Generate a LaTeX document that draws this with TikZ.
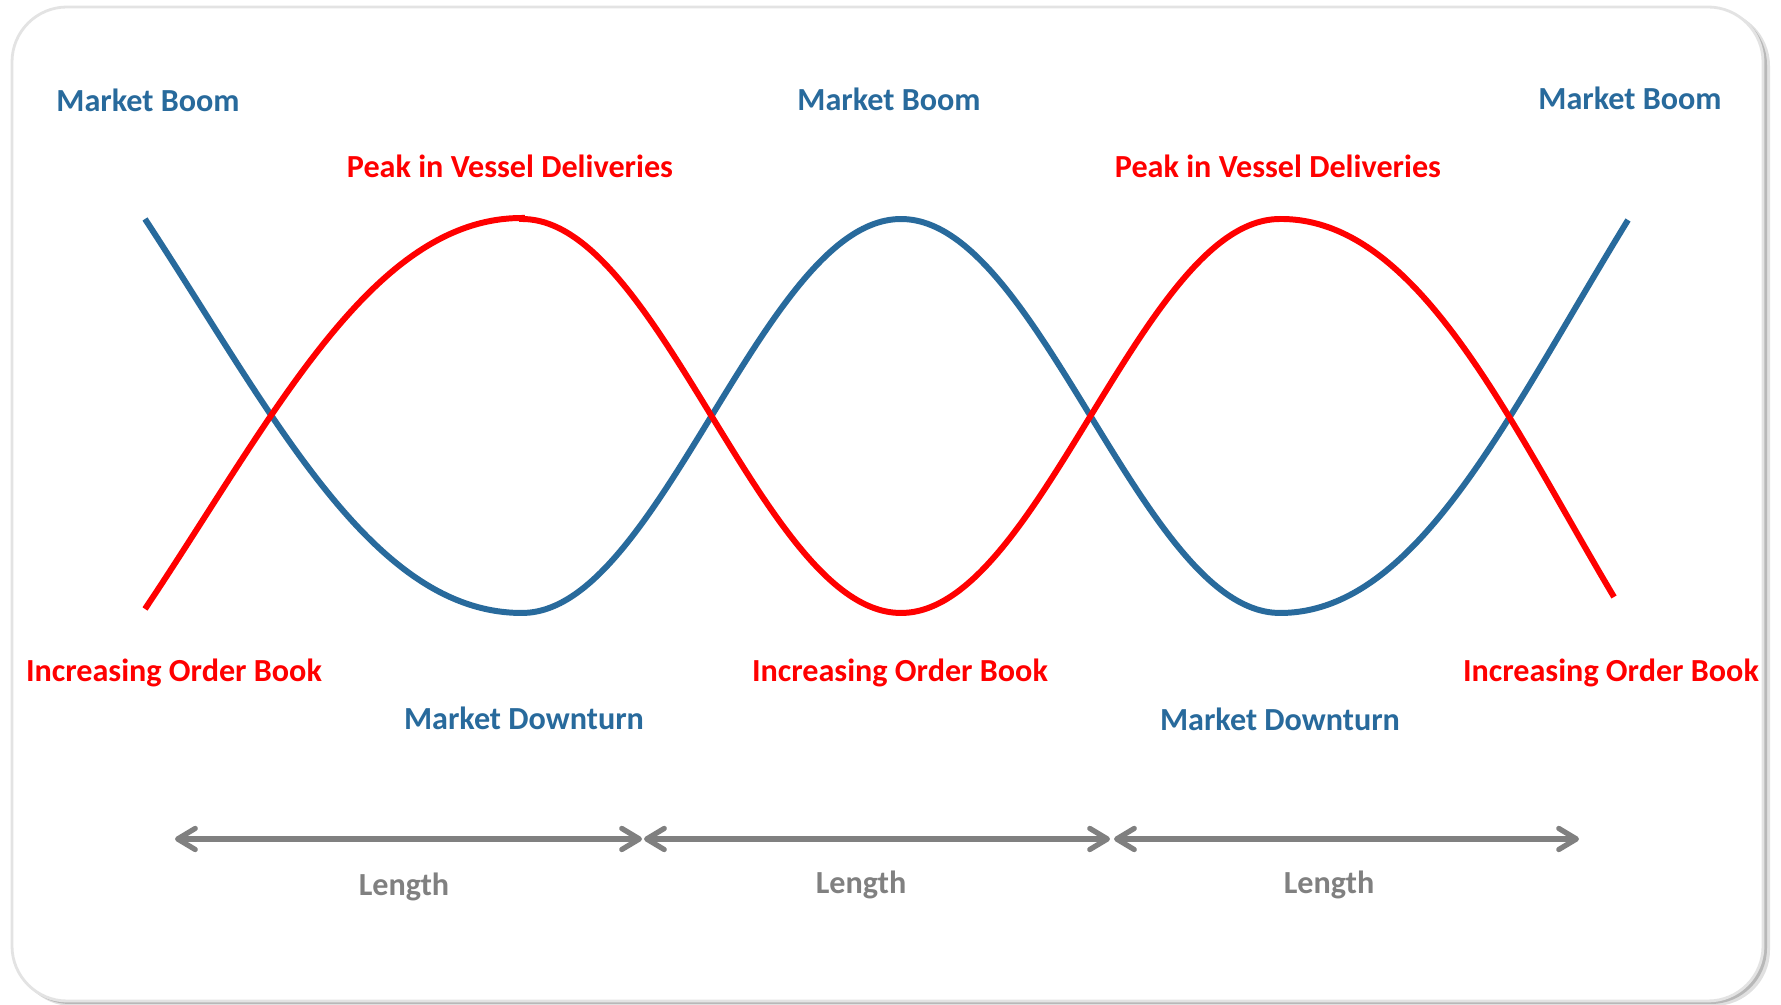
\documentclass[tikz,border=0pt]{standalone}
\usepackage{fontspec}
\setmainfont{Carlito}
\usepackage{tikz}
\usetikzlibrary{arrows.meta}
\definecolor{boom}{HTML}{286A9C}
\definecolor{deliv}{HTML}{FF0000}
\definecolor{span}{HTML}{808080}
\definecolor{frame}{HTML}{E3E3E3}
\tikzset{
  boomline/.style={draw=boom, line width=1.7pt},
  delivline/.style={draw=deliv, line width=1.7pt},
  lenarrow/.style={draw=span, line width=1.5pt,
    {Straight Barb[length=5pt,width=6pt,round]}-{Straight Barb[length=5pt,width=6pt,round]}},
  lab/.style={font=\fontsize{9.15pt}{11pt}\selectfont\bfseries, inner sep=1pt},
  labb/.style={lab, text=boom},
  labr/.style={lab, text=deliv},
  labg/.style={lab, text=span}
}

\begin{document}
\begin{tikzpicture}
  \useasboundingbox (0,0) rectangle (17.81,10.05);

  % card with its soft shadow
  \fill[black!12, rounded corners=0.56cm] (0.16,-0.01) rectangle (17.70,9.95);
  \fill[black!28, rounded corners=0.56cm] (0.14,0.01) rectangle (17.67,9.96);
  \draw[frame, fill=white, line width=0.8pt, rounded corners=0.55cm] (0.12,0.04) rectangle (17.63,9.98);

  % market cycle: steep start, sine in the middle, steep end
  \coordinate (B0) at (1.45,7.86);  \coordinate (B1) at (2.74,5.89);
  \coordinate (B2) at (3.72,3.92);  \coordinate (B3) at (5.22,3.92);
  \coordinate (B5) at (14.17,3.92); \coordinate (B6) at (15.07,5.88);
  \coordinate (B7) at (16.28,7.85);
  \draw[boomline] (B0) .. controls (B1) and (B2) .. (B3)
    -- plot[domain=5.22:12.80, samples=100, smooth] (\x, {5.89-1.97*cos(180*(\x-5.22)/3.79)})
    .. controls (B5) and (B6) .. (B7);

  % deliveries cycle, half a cycle out of step
  \coordinate (R0) at (1.45,3.96);  \coordinate (R1) at (2.74,5.89);
  \coordinate (R2) at (3.72,7.87);  \coordinate (R3) at (5.22,7.87);
  \coordinate (R5) at (14.17,7.87); \coordinate (R6) at (15.07,5.88);
  \coordinate (R7) at (16.14,4.08);
  \draw[delivline] (R0) .. controls (R1) and (R2) .. (R3)
    -- plot[domain=5.22:12.80, samples=100, smooth] (\x, {5.89+1.97*cos(180*(\x-5.22)/3.79)})
    .. controls (R5) and (R6) .. (R7);

  \node[labb] (boomA) at (1.48,9.05) {Market Boom};
  \node[labb] (boomB) at (8.89,9.06) {Market Boom};
  \node[labb] (boomC) at (16.30,9.07) {Market Boom};
  \node[labr] (peakA) at (5.10,8.39) {Peak in Vessel Deliveries};
  \node[labr] (peakB) at (12.78,8.39) {Peak in Vessel Deliveries};
  \node[labr] (orderA) at (1.74,3.32) {Increasing Order Book};
  \node[labr] (orderB) at (9.00,3.32) {Increasing Order Book};
  \node[labr] (orderC) at (16.11,3.32) {Increasing Order Book};
  \node[labb] (downA) at (5.24,2.87) {Market Downturn};
  \node[labb] (downB) at (12.80,2.86) {Market Downturn};

  % cycle lengths
  \coordinate (L0) at (1.75,1.66);
  \coordinate (L1) at (6.42,1.66);
  \coordinate (L2) at (6.44,1.66);
  \coordinate (L3) at (11.10,1.66);
  \coordinate (L4) at (11.14,1.66);
  \coordinate (L5) at (15.79,1.66);
  \draw[lenarrow] (L0) -- (L1);
  \draw[lenarrow] (L2) -- (L3);
  \draw[lenarrow] (L4) -- (L5);
  \node[labg] (lenA) at (4.04,1.18) {Length};
  \node[labg] (lenB) at (8.61,1.20) {Length};
  \node[labg] (lenC) at (13.29,1.20) {Length};
\end{tikzpicture}
\end{document}
